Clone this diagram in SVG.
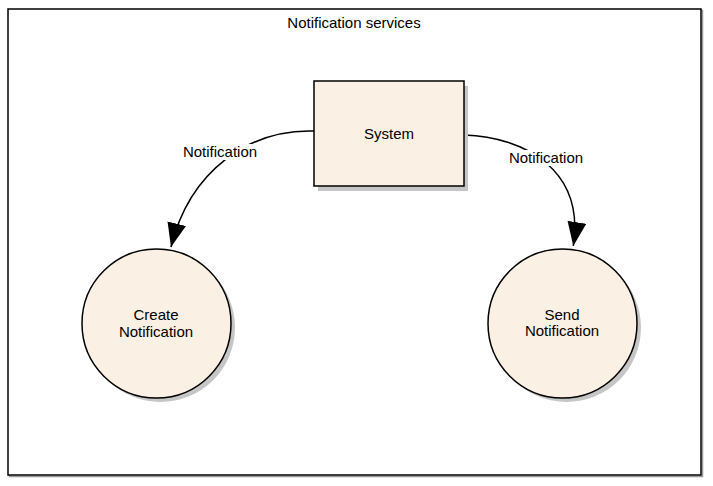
<svg xmlns="http://www.w3.org/2000/svg" width="713" height="486" viewBox="0 0 713 486">
<defs>
<style>
text{font-family:"Liberation Sans",Arial,Helvetica,sans-serif;font-size:15px;fill:#000;text-anchor:middle}
.shape{fill:#FAF0E4;stroke:#000;stroke-width:1.5}
.shadow{fill:#c6c6c6;stroke:none}
.edge{fill:none;stroke:#000;stroke-width:1.5}
.lbl{fill:#fff;stroke:none}
</style>
<marker id="arrow" markerUnits="userSpaceOnUse" markerWidth="25" markerHeight="21" refX="24" refY="9.5" orient="auto" viewBox="0 0 25 21">
<path d="M0,0 L24,9.5 L0,19 Z" fill="#000"/>
</marker>
</defs>
<rect width="713" height="486" fill="#fff"/>
<g id="frame">
<rect x="9.5" y="10.5" width="693" height="466" fill="none" stroke="#999" stroke-width="1.5"/>
<rect x="8" y="9" width="693" height="466" fill="#fff" stroke="#000" stroke-width="1.5"/>
<text x="354" y="28">Notification services</text>
</g>
<g id="connectors">
<g id="edge-create">
<path class="edge" d="M314,131 C250,129 190,170 171,247" marker-end="url(#arrow)"/>
<rect class="lbl" x="182" y="144" width="77" height="16"/>
<text x="220" y="157">Notification</text>
</g>
<g id="edge-send">
<path class="edge" d="M464,135 C525,137 585,170 573.3,246" marker-end="url(#arrow)"/>
<rect class="lbl" x="507" y="150" width="78" height="16"/>
<text x="546" y="163">Notification</text>
</g>
</g>
<g id="system">
<rect class="shadow" x="318" y="86" width="150" height="105"/>
<rect class="shape" x="314" y="81" width="150" height="105"/>
<text x="389" y="139">System</text>
</g>
<g id="create-notification">
<circle class="shadow" cx="160.5" cy="327.5" r="74.5"/>
<circle class="shape" cx="156.5" cy="323.5" r="74.5"/>
<text x="156" y="320">Create</text>
<text x="156" y="336.5">Notification</text>
</g>
<g id="send-notification">
<circle class="shadow" cx="566.5" cy="327.5" r="74.5"/>
<circle class="shape" cx="562.5" cy="323.5" r="74.5"/>
<text x="562" y="319.5">Send</text>
<text x="562" y="336">Notification</text>
</g>
</svg>
